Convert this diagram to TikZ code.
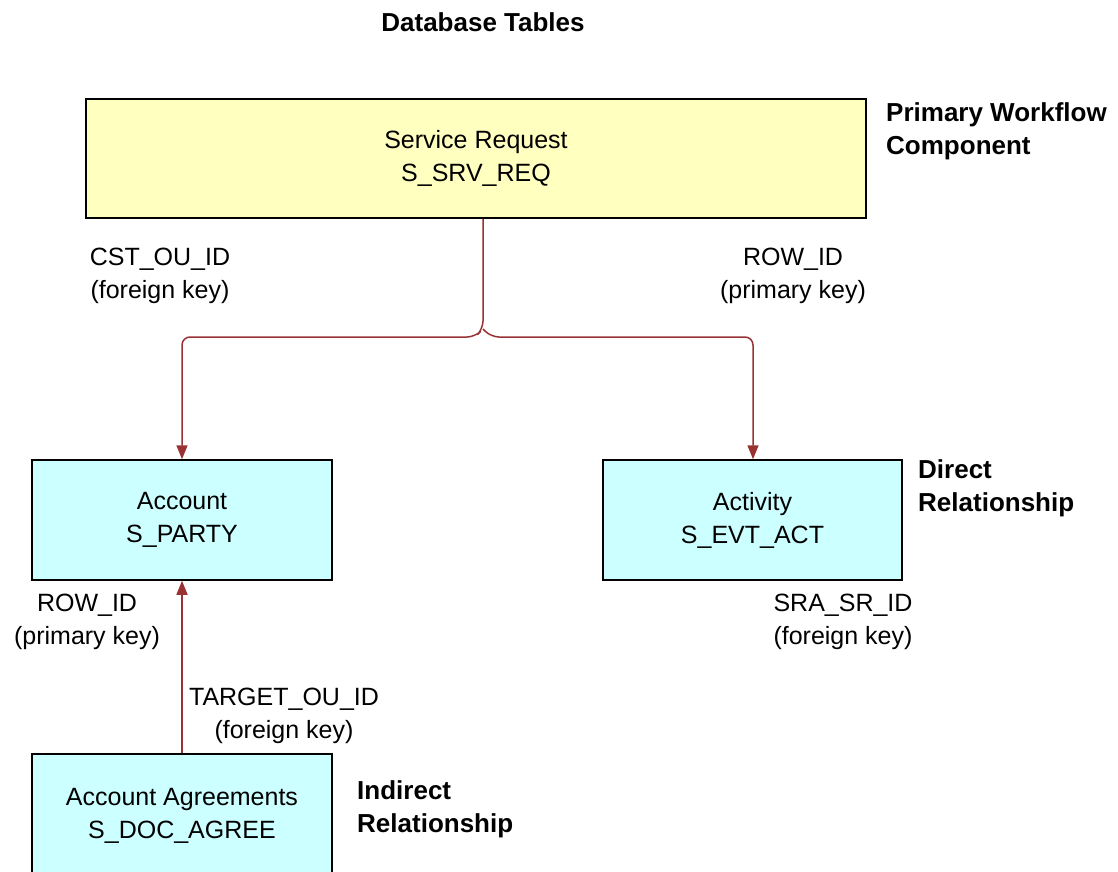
\documentclass[tikz,border=0pt]{standalone}
\usepackage{fontspec}
\setmainfont{Liberation Sans}
\usepackage{tikz}
\usetikzlibrary{arrows.meta}

\definecolor{reqfill}{HTML}{FFFFC0}
\definecolor{tabfill}{HTML}{CCFFFF}
\definecolor{linkred}{HTML}{993333}

\begin{document}
\begin{tikzpicture}[
            x=1pt, y=-1pt,
            every node/.style={font=\fontsize{25}{33}\selectfont, inner sep=0pt}, % Text of all nodes
            table/.style={draw, line width=1.5pt, align=center}, % Table boxes
            keylabel/.style={align=center}, % Key names beside the links
            note/.style={anchor=west, align=left, font=\fontsize{26}{33}\selectfont\bfseries}, % Bold notes
            link/.style={draw=linkred, line width=1.5pt, -{Triangle[width=11pt,length=14pt]}} % Red arrows
            ]

                \clip (0,0) rectangle (1118,871);
                \fill[white] (0,0) rectangle (1118,871);

                % Title
                \node[font=\fontsize{26}{33}\selectfont\bfseries] (title) at (483,22) {Database Tables};

                % Table boxes
                \node[table, fill=reqfill, minimum width=780pt, minimum height=119pt] (sr) at (476,158.5) {Service Request\\S\_SRV\_REQ};
                \node[table, fill=tabfill, minimum width=300pt, minimum height=120pt] (acct) at (182,520) {Account\\S\_PARTY};
                \node[table, fill=tabfill, minimum width=299pt, minimum height=120pt] (act) at (752.5,520) {Activity\\S\_EVT\_ACT};
                \node[table, fill=tabfill, minimum width=300pt, minimum height=124pt] (agree) at (182,816) {Account Agreements\\S\_DOC\_AGREE};

                % Notes on the right
                \node[note] (primary) at (886,131) {Primary Workflow\\Component};
                \node[note] (direct) at (918,488) {Direct\\Relationship};
                \node[note] (indirect) at (357,809) {Indirect\\Relationship};

                % Key labels
                \node[keylabel] (cstkey) at (160,276) {CST\_OU\_ID\\(foreign key)};
                \node[keylabel] (srrow) at (793,276) {ROW\_ID\\(primary key)};
                \node[keylabel] (acctrow) at (87,622) {ROW\_ID\\(primary key)};
                \node[keylabel] (srakey) at (843,622) {SRA\_SR\_ID\\(foreign key)};
                \node[keylabel] (targetkey) at (284,716) {TARGET\_OU\_ID\\(foreign key)};

                % Links
                \coordinate (split) at (483,329);
                \draw[link, rounded corners=8pt] (sr.south -| split) -- (split) -- (475,337) -- (182,337) -- (acct.north);
                \draw[link, rounded corners=8pt] (split) -- (491,337) -- (753,337) -- (act.north -| 753,0);
                \draw[link] (agree.north) -- (acct.south);

            \end{tikzpicture}
\end{document}
